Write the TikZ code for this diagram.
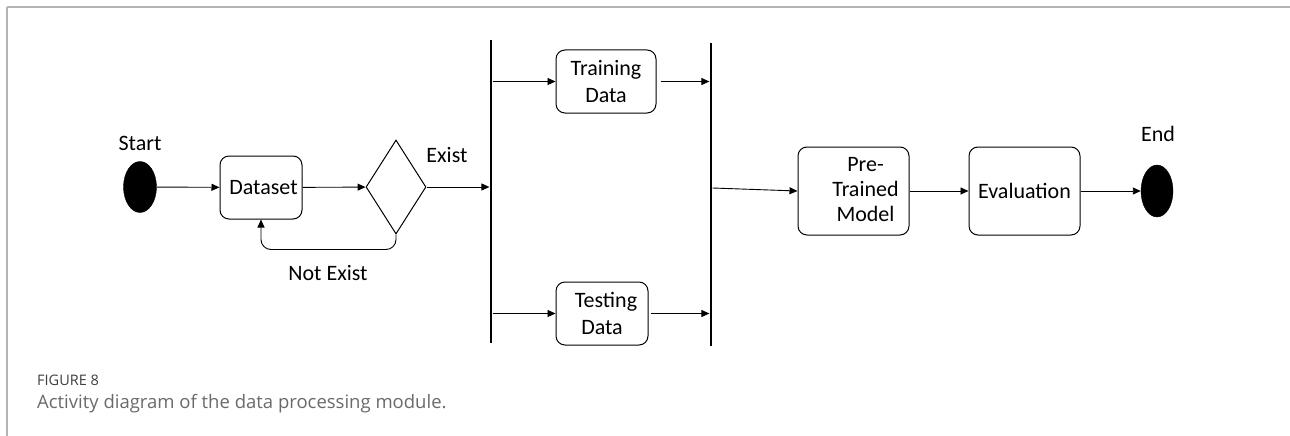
\documentclass[tikz,border=0pt]{standalone}
\usepackage{fontspec}
\setmainfont{Carlito}
\newfontfamily\captionfont{Open Sans}
\usetikzlibrary{arrows.meta,shapes.geometric}
\definecolor{framegray}{HTML}{B4B4B4}
\definecolor{capgray}{HTML}{3E3E3E}
\definecolor{captext}{HTML}{6A6A6A}
\tikzset{
  every node/.style={font=\fontsize{22}{27}\selectfont},
  flow/.style={draw=black, line width=0.9pt, -{Triangle[length=8pt,width=7pt]}},
  actbox/.style={draw=black, line width=1pt, rounded corners=9pt, align=center, inner sep=0pt},
  terminal/.style={ellipse, fill=black, draw=black, inner sep=0pt},
  syncbar/.style={fill=black, inner sep=0pt, minimum width=2.8pt},
  decision/.style={diamond, draw=black, line width=1pt, inner sep=0pt, minimum width=60pt, minimum height=94pt},
  plain/.style={inner sep=0pt}
}
\begin{document}
\begin{tikzpicture}[x=1pt, y=-1pt]
\useasboundingbox (0,0) rectangle (1290,436);
% page frame
\draw[framegray, line width=2pt] (7,7) -- (1290,7);
\draw[framegray, line width=1.5pt] (7,7) -- (7,436);

% start, dataset, decision
\node[terminal, minimum width=33pt, minimum height=51pt] (start) at (140,187) {};
\node[plain] (startlbl) at (140,143) {Start};
\node[actbox, minimum width=82pt, minimum height=63pt] (dataset) at (261,187.5) {\hspace*{5pt}Dataset};
\node[decision] (check) at (396,187) {};
\node[plain] (existlbl) at (447,155) {Exist};
\node[plain] (notexistlbl) at (328,273) {Not Exist};

% fork and join bars
\node[syncbar, minimum height=303pt] (fork) at (491,191.5) {};
\node[syncbar, minimum height=303pt] (join) at (711,194.5) {};

% parallel branches
\node[actbox, minimum width=100pt, minimum height=63pt] (train) at (606,81.5) {Training\\Data};
\node[actbox, minimum width=92pt, minimum height=63pt] (test) at (602,313.5) {\hspace*{8pt}Testing\\Data};

% model and evaluation
\node[actbox, minimum width=111pt, minimum height=88pt] (model) at (853.5,191)
  {\raisebox{-5pt}{\begin{tabular}{@{\hspace{24pt}}c@{}}Pre-\\[-2pt]Trained\\[-2pt]Model\end{tabular}}};
\node[actbox, minimum width=111pt, minimum height=88pt] (eval) at (1024.5,191) {Evaluation};
\node[terminal, minimum width=32pt, minimum height=52pt] (finish) at (1157,191) {};
\node[plain] (endlbl) at (1158,134) {End};

\coordinate (joinout) at (712.5,188);

% connectors
\draw[flow] (start) -- (dataset);
\draw[flow] (dataset) -- (check);
\draw[flow] (check.east) -- (check.east -| fork.west);
\draw[flow, rounded corners=10pt] (check.south) -- ++(0,15) -| (dataset.south);
\draw[flow] (fork.east |- train.west) -- (train.west);
\draw[flow] (fork.east |- test.west) -- (test.west);
\draw[flow] ([xshift=4pt]train.east) -- (train.east -| join.west);
\draw[flow] ([xshift=2pt]test.east) -- (test.east -| join.west);
\draw[flow] (joinout) -- (model.west);
\draw[flow] (model) -- (eval);
\draw[flow] (eval) -- (finish);

% caption
\node[plain, anchor=west, font=\captionfont\fontsize{14.5}{17}\selectfont, text=capgray] (figno) at (37,380) {FIGURE 8};
\node[plain, anchor=west, font=\captionfont\fontsize{18.5}{22}\selectfont, text=captext] (figcap) at (37,404) {Activity diagram of the data processing module.};
\end{tikzpicture}
\end{document}
